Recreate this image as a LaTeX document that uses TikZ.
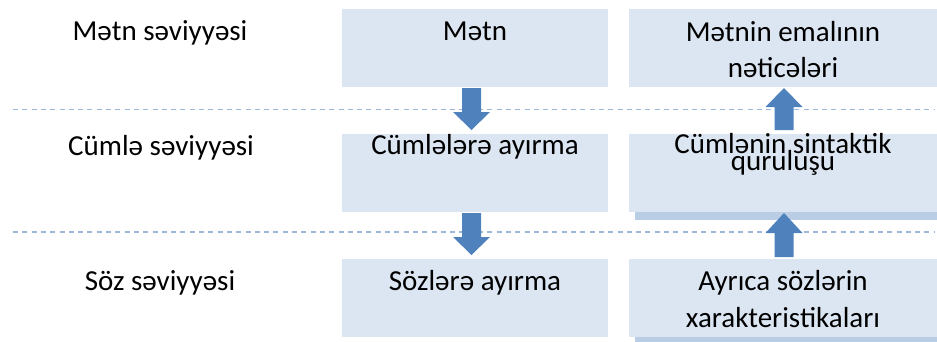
\documentclass[tikz,border=0pt]{standalone}
\usepackage{fontspec}
\setmainfont{Carlito}
\definecolor{boxfill}{HTML}{DCE6F2}
\definecolor{stripfill}{HTML}{B9CDE5}
\definecolor{arrowfill}{HTML}{4F81BD}
\definecolor{dashcol}{HTML}{9DB8DB}
\tikzset{
  levelbox/.style={draw=none, fill=boxfill, inner sep=0pt, rectangle},
  stripbox/.style={draw=none, fill=stripfill, inner sep=0pt, rectangle},
  lbl/.style={inner sep=0pt, anchor=base, font=\fontsize{29}{34}\selectfont},
  levelline/.style={draw=dashcol, line width=1.4pt, dash pattern=on 5pt off 4.3pt},
  blockarrow/.style={fill=arrowfill, draw=none},
}
\begin{document}
\begin{tikzpicture}[x=1pt, y=-1pt]
\useasboundingbox (0,0) rectangle (937,341);
% boxes
\node[levelbox, minimum width=266pt, minimum height=78pt] (m1) at (475,48) {};
\node[levelbox, minimum width=266pt, minimum height=78pt] (m2) at (475,173) {};
\node[levelbox, minimum width=266pt, minimum height=78pt] (m3) at (475,298) {};
\node[stripbox, minimum width=302pt, minimum height=8pt] (s2) at (786,216) {};
\node[stripbox, minimum width=302pt, minimum height=8pt] (s3) at (786,341) {};
\node[levelbox, minimum width=308pt, minimum height=78pt] (r1) at (783,48) {};
\node[levelbox, minimum width=308pt, minimum height=78pt] (r2) at (783,173) {};
\node[levelbox, minimum width=308pt, minimum height=78pt] (r3) at (783,298) {};
% dashed level lines
\coordinate (d1a) at (13,109.5);
\coordinate (d1b) at (934,109.5);
\coordinate (d2a) at (13,232);
\coordinate (d2b) at (934,232);
\draw[levelline] (d1a) -- (d1b);
\draw[levelline] (d2a) -- (d2b);
% block arrows
\coordinate (dn1) at (471.5,88);
\coordinate (dn2) at (471.5,213);
\coordinate (up1) at (784,130);
\coordinate (up2) at (784,257);
\fill[blockarrow] (dn1) ++(-9.5,0) -- ++(19,0) -- ++(0,24) -- ++(9,0) -- ++(-18.5,18) -- ++(-18.5,-18) -- ++(9,0) -- cycle;
\fill[blockarrow] (dn2) ++(-9.5,0) -- ++(19,0) -- ++(0,24) -- ++(9,0) -- ++(-18.5,18) -- ++(-18.5,-18) -- ++(9,0) -- cycle;
\fill[blockarrow] (up1) ++(-9.5,0) -- ++(19,0) -- ++(0,-23) -- ++(9,0) -- ++(-18.5,-19) -- ++(-18.5,19) -- ++(9,0) -- cycle;
\fill[blockarrow] (up2) ++(-9.5,0) -- ++(19,0) -- ++(0,-24) -- ++(9,0) -- ++(-18.5,-20) -- ++(-18.5,20) -- ++(9,0) -- cycle;
% left labels
\node[lbl] (l1) at (160,40) {Mətn səviyyəsi};
\node[lbl] (l2) at (161,155) {Cümlə səviyyəsi};
\node[lbl] (l3) at (160,290) {Söz səviyyəsi};
% middle labels
\node[lbl] (t1) at (475,40) {Mətn};
\node[lbl] (t2) at (475,154) {Cümlələrə ayırma};
\node[lbl] (t3) at (475,290) {Sözlərə ayırma};
% right labels
\node[lbl] (u1a) at (783,41) {Mətnin emalının};
\node[lbl] (u1b) at (783,77) {nəticələri};
\node[lbl] (u2a) at (783,153) {Cümlənin sintaktik};
\node[lbl] (u2b) at (783,170) {quruluşu};
\node[lbl] (u3a) at (783,290) {Ayrıca sözlərin};
\node[lbl] (u3b) at (783,327) {xarakteristikaları};
\end{tikzpicture}
\end{document}
